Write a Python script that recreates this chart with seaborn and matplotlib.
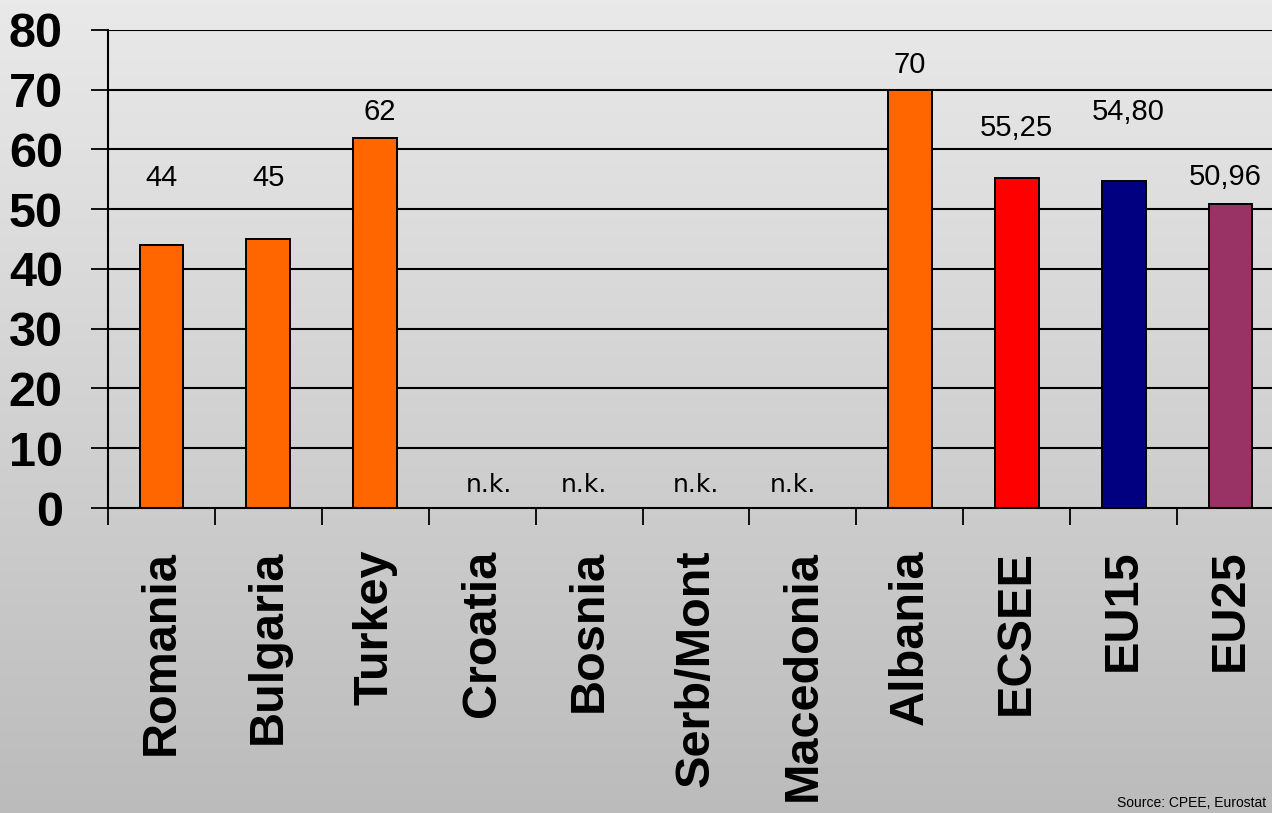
import numpy as np
import pandas as pd
import seaborn as sns
from matplotlib import pyplot as plt

# data
countries = ['Romania', 'Bulgaria', 'Turkey', 'Croatia', 'Bosnia', 'Serb/Mont',
             'Macedonia', 'Albania', 'ECSEE', 'EU15', 'EU25']
values = [44, 45, 62, np.nan, np.nan, np.nan, np.nan, 70, 55.25, 54.80, 50.96]
value_labels = ['44', '45', '62', 'n.k.', 'n.k.', 'n.k.', 'n.k.', '70',
                '55,25', '54,80', '50,96']
bar_colors = ['#FF6600', '#FF6600', '#FF6600', '#FF6600', '#FF6600', '#FF6600',
              '#FF6600', '#FF6600', '#FF0000', '#000080', '#993366']
y_ticks = [0, 10, 20, 30, 40, 50, 60, 70, 80]

# where the value labels sit (the original places them by hand)
label_y = [55.2, 55.2, 66.3, 3.8, 3.8, 3.8, 3.8, 74.1, 63.6, 66.3, 55.4]
label_dx = [0, 0, 0.04, 0.06, -0.05, 0, -0.09, 0, 0, 0.04, -0.05]

df = pd.DataFrame({'country': countries, 'value': values})

sns.set_style('white')
plt.rcParams['font.family'] = ['Liberation Sans', 'DejaVu Sans']
plt.rcParams['text.color'] = 'black'
plt.rcParams['xtick.color'] = 'black'
plt.rcParams['ytick.color'] = 'black'

W, H = 1272, 813
fig = plt.figure(figsize=(W / 100, H / 100), dpi=100)

# grey vertical gradient background, light at the top
bg = fig.add_axes([0, 0, 1, 1], zorder=-10)
shade = np.linspace(0.915, 0.735, 256)
grad = np.dstack([shade, shade, shade]).reshape(-1, 1, 3)
bg.imshow(grad, aspect='auto', extent=[0, 1, 0, 1], origin='upper')
bg.axis('off')

ax = fig.add_axes([108 / W, 1 - 508 / H, 1176 / W, 478 / H])
ax.set_facecolor('none')

sns.barplot(data=df, x='country', y='value', hue='country', order=countries,
            palette=dict(zip(countries, bar_colors)), saturation=1, legend=False,
            width=0.41, edgecolor='black', linewidth=1.4, ax=ax, zorder=3)

ax.set_xlim(-0.5, 10.5)
ax.set_ylim(0, 80)
ax.set_yticks(y_ticks)
for y in y_ticks[1:]:
    ax.axhline(y, color='black', lw=1.5, zorder=1)

for spine in ['top', 'right']:
    ax.spines[spine].set_visible(False)
for spine in ['left', 'bottom']:
    ax.spines[spine].set_color('black')
    ax.spines[spine].set_linewidth(1.5)
    ax.spines[spine].set_zorder(4)

ax.set_xticks(range(len(countries)))
ax.set_xticklabels(countries, rotation=90, fontsize=35, fontweight='bold')
ax.set_xticks(np.arange(-0.5, 11, 1), minor=True)
ax.tick_params(axis='x', which='major', length=0, pad=30)
ax.tick_params(axis='x', which='minor', length=12.5, width=1.3, color='black',
               direction='out', bottom=True)
ax.tick_params(axis='y', length=12.5, width=1.3, color='black', direction='out',
               left=True, pad=20, labelsize=35)
for lab in ax.get_yticklabels():
    lab.set_fontweight('bold')
ax.set_xlabel('')
ax.set_ylabel('')

for i, txt in enumerate(value_labels):
    if txt == 'n.k.':
        ax.text(i + label_dx[i], label_y[i], txt, ha='center', va='center',
                fontsize=18, family='DejaVu Sans', zorder=5)
    else:
        ax.text(i + label_dx[i], label_y[i], txt, ha='center', va='center',
                fontsize=21, zorder=5)

fig.text(1266 / W, 3 / H, 'Source: CPEE, Eurostat', ha='right', va='bottom',
         fontsize=10)

fig.savefig('out.png', dpi=100)
